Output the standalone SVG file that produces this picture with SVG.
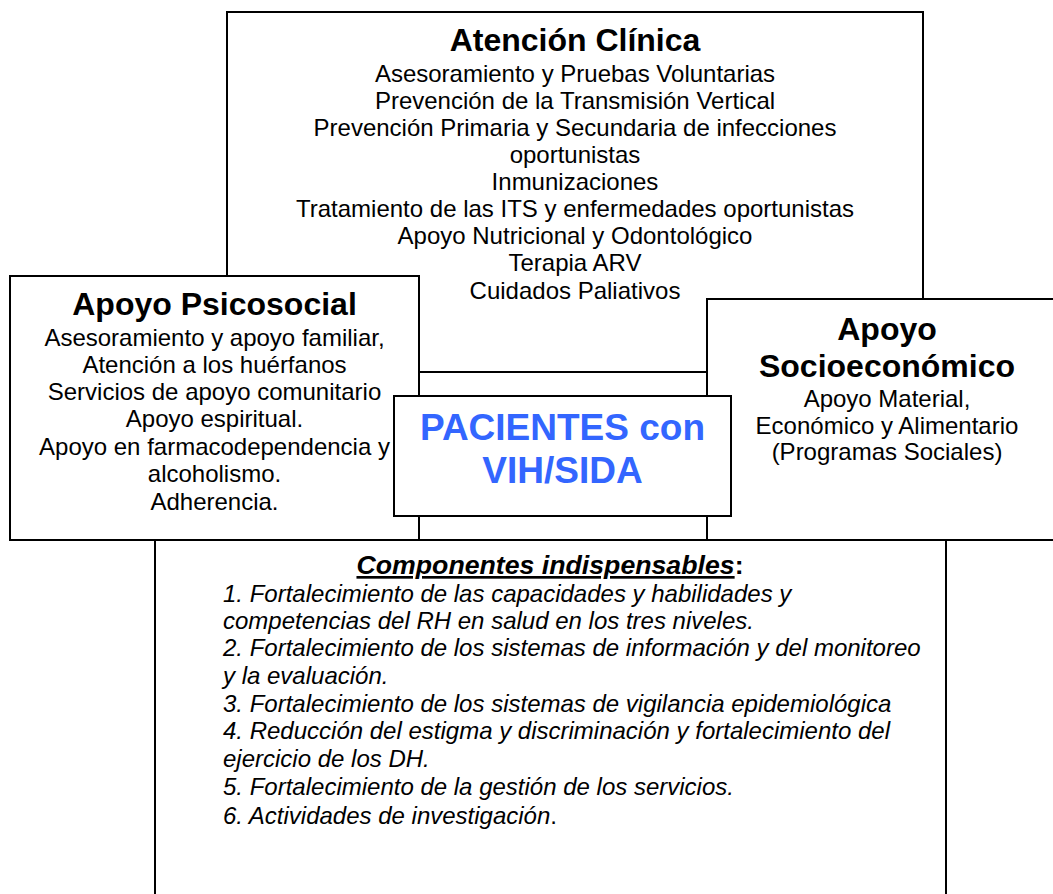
<svg xmlns="http://www.w3.org/2000/svg" width="1053" height="894" viewBox="0 0 1053 894">
<style>
.box{fill:#fff;stroke:#000;stroke-width:2}
text{font-family:"Liberation Sans",Arial,sans-serif;fill:#000}
.t{font-size:32px;font-weight:bold;text-anchor:middle}
.b{font-size:24px;text-anchor:middle}
.c{font-size:37px;font-weight:bold;text-anchor:middle;fill:#3366ff}
.i{font-size:24px;font-style:italic}
.h{font-size:26.7px;font-weight:bold;font-style:italic;text-anchor:middle}
</style>
<rect width="1053" height="894" fill="#fff"/>
<g id="atencion-clinica">
<rect class="box" x="227" y="12" width="696" height="360"/>
<text class="t" x="575" y="51">Atención Clínica</text>
<text class="b" x="575" y="82">Asesoramiento y Pruebas Voluntarias</text>
<text class="b" x="575" y="109">Prevención de la Transmisión Vertical</text>
<text class="b" x="575" y="136">Prevención Primaria y Secundaria de infecciones</text>
<text class="b" x="575" y="163">oportunistas</text>
<text class="b" x="575" y="190">Inmunizaciones</text>
<text class="b" x="575" y="217">Tratamiento de las ITS y enfermedades oportunistas</text>
<text class="b" x="575" y="244">Apoyo Nutricional y Odontológico</text>
<text class="b" x="575" y="271">Terapia ARV</text>
<text class="b" x="575" y="299">Cuidados Paliativos</text>
</g>
<g id="apoyo-psicosocial">
<rect class="box" x="10" y="276" width="409" height="264"/>
<text class="t" x="214.5" y="315">Apoyo Psicosocial</text>
<text class="b" x="214.5" y="346">Asesoramiento y apoyo familiar,</text>
<text class="b" x="214.5" y="373">Atención a los huérfanos</text>
<text class="b" x="214.5" y="400">Servicios de apoyo comunitario</text>
<text class="b" x="214.5" y="427">Apoyo espiritual.</text>
<text class="b" x="214.5" y="455">Apoyo en farmacodependencia y</text>
<text class="b" x="214.5" y="482">alcoholismo.</text>
<text class="b" x="214.5" y="510">Adherencia.</text>
</g>
<g id="apoyo-socioeconomico">
<rect class="box" x="707" y="299" width="361" height="241"/>
<text class="t" x="887" y="340">Apoyo</text>
<text class="t" x="887" y="377">Socioeconómico</text>
<text class="b" x="887" y="407">Apoyo Material,</text>
<text class="b" x="887" y="434">Económico y Alimentario</text>
<text class="b" x="887" y="460">(Programas Sociales)</text>
</g>
<g id="pacientes">
<rect class="box" x="394" y="396" width="337" height="120"/>
<text class="c" x="562.5" y="440">PACIENTES con</text>
<text class="c" x="562.5" y="483">VIH/SIDA</text>
</g>
<g id="componentes">
<rect class="box" x="155" y="540" width="791" height="370"/>
<text class="h" x="550" y="574"><tspan text-decoration="underline">Componentes indispensables</tspan><tspan font-style="normal">:</tspan></text>
<text class="i" x="223" y="602">1. Fortalecimiento de las capacidades y habilidades y</text>
<text class="i" x="223" y="629">competencias del RH en salud en los tres niveles.</text>
<text class="i" x="223" y="656">2. Fortalecimiento de los sistemas de información y del monitoreo</text>
<text class="i" x="223" y="684">y la evaluación.</text>
<text class="i" x="223" y="712">3. Fortalecimiento de los sistemas de vigilancia epidemiológica</text>
<text class="i" x="223" y="739">4. Reducción del estigma y discriminación y fortalecimiento del</text>
<text class="i" x="223" y="767">ejercicio de los DH.</text>
<text class="i" x="223" y="795">5. Fortalecimiento de la gestión de los servicios.</text>
<text class="i" x="223" y="824">6. Actividades de investigación<tspan font-style="normal">.</tspan></text>
</g>
</svg>
